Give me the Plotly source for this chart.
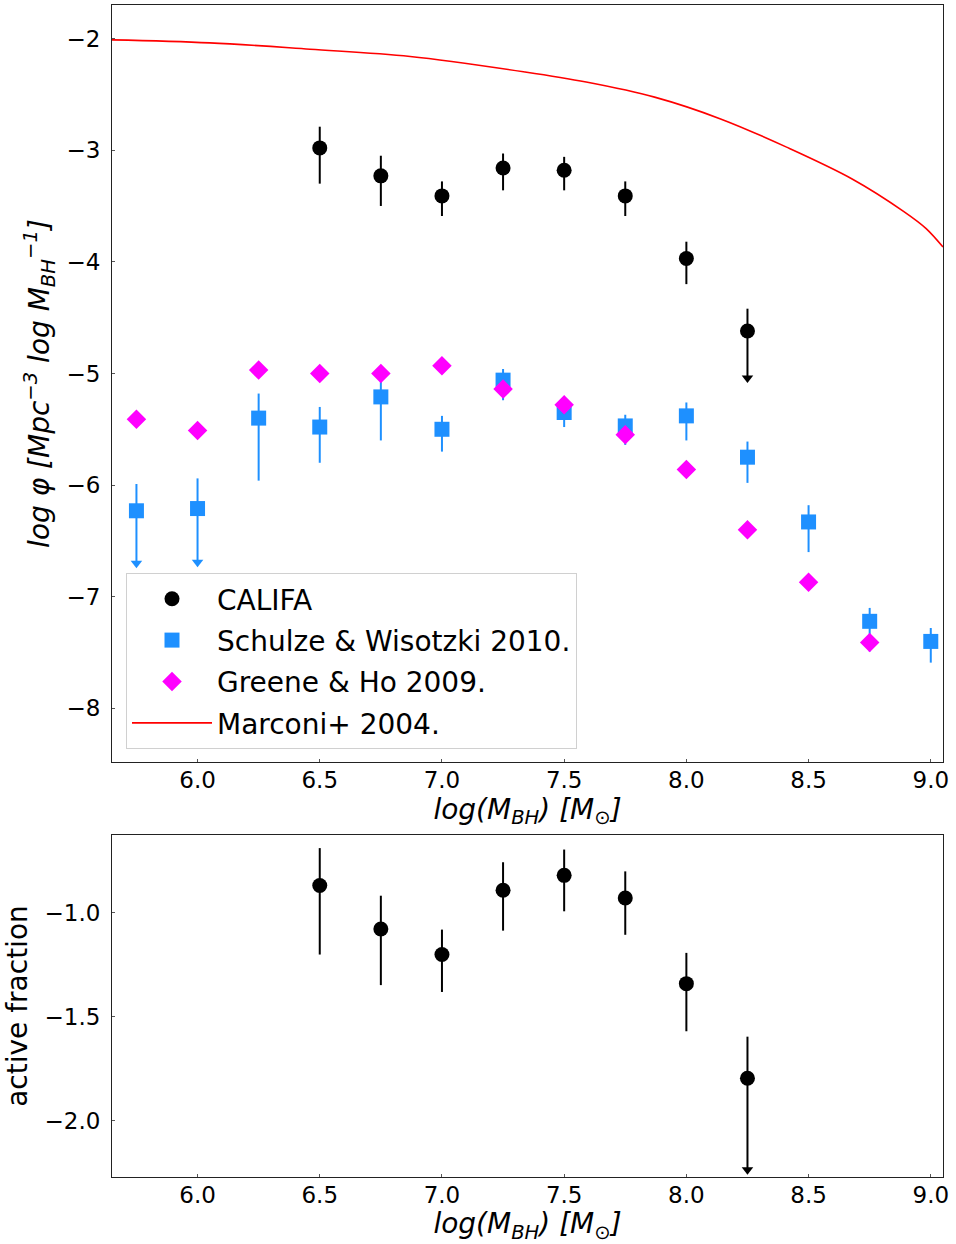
import plotly.graph_objects as go
from plotly.subplots import make_subplots

# ---------------- data ----------------
califa_x = [6.5, 6.75, 7.0, 7.25, 7.5, 7.75, 8.0, 8.25]
califa_y = [-2.98, -3.23, -3.41, -3.16, -3.18, -3.41, -3.97, -4.62]
califa_err_up = [0.19, 0.18, 0.13, 0.13, 0.12, 0.13, 0.15, 0.20]
califa_err_dn = [0.32, 0.27, 0.18, 0.20, 0.18, 0.18, 0.23, 0.42]
califa_limit = [False, False, False, False, False, False, False, True]

sw_x = [5.75, 6.0, 6.25, 6.5, 6.75, 7.0, 7.25, 7.5, 7.75, 8.0, 8.25, 8.5, 8.75, 9.0]
sw_y = [-6.23, -6.21, -5.40, -5.48, -5.21, -5.50, -5.06, -5.35, -5.47, -5.38, -5.75, -6.33, -7.22, -7.40]
sw_err_up = [0.24, 0.27, 0.22, 0.18, 0.18, 0.12, 0.10, 0.08, 0.10, 0.12, 0.14, 0.15, 0.12, 0.12]
sw_err_dn = [0.47, 0.48, 0.56, 0.32, 0.39, 0.20, 0.18, 0.13, 0.17, 0.22, 0.23, 0.27, 0.27, 0.19]
sw_limit = [True, True, False, False, False, False, False, False, False, False, False, False, False, False]

gh_x = [5.75, 6.0, 6.25, 6.5, 6.75, 7.0, 7.25, 7.5, 7.75, 8.0, 8.25, 8.5, 8.75]
gh_y = [-5.41, -5.51, -4.97, -5.00, -5.00, -4.93, -5.14, -5.28, -5.55, -5.86, -6.40, -6.87, -7.41]

marconi_x = [5.65, 6.05, 6.46, 6.87, 7.34, 7.59, 7.87, 8.14, 8.41, 8.68, 8.89, 8.98, 9.05]
marconi_y = [-2.012, -2.039, -2.096, -2.161, -2.30, -2.39, -2.525, -2.72, -2.973, -3.26, -3.55, -3.70, -3.868]

frac_x = [6.5, 6.75, 7.0, 7.25, 7.5, 7.75, 8.0, 8.25]
frac_y = [-0.868, -1.077, -1.20, -0.891, -0.819, -0.928, -1.34, -1.795]
frac_err_up = [0.18, 0.16, 0.12, 0.135, 0.124, 0.128, 0.148, 0.20]
frac_err_dn = [0.332, 0.27, 0.18, 0.194, 0.173, 0.177, 0.229, 0.44]
frac_limit = [False, False, False, False, False, False, False, True]

top_yticks = [-2, -3, -4, -5, -6, -7, -8]
bot_yticks = [-1.0, -1.5, -2.0]
xticks = [6.0, 6.5, 7.0, 7.5, 8.0, 8.5, 9.0]

# ---------------- figure ----------------
FONT = "DejaVu Sans"
BLUE = "#1E90FF"
MAG = "#FF00FF"

fig = make_subplots(rows=2, cols=1, shared_xaxes=False, vertical_spacing=0.0)

def err_trace(x, y, up, dn, color, row, name, symbol, size, showlegend, group):
    fig.add_trace(go.Scatter(
        x=x, y=y, mode="markers", name=name, legendgroup=group, showlegend=showlegend,
        marker=dict(symbol=symbol, size=size, color=color, line=dict(width=0)),
        error_y=dict(type="data", symmetric=False, array=up, arrayminus=dn,
                     color=color, thickness=2, width=0),
    ), row=row, col=1)

def arrow_trace(x, y, dn, lim, color, row, group):
    ax = [xi for xi, l in zip(x, lim) if l]
    ay = [yi - d for yi, d, l in zip(y, dn, lim) if l]
    fig.add_trace(go.Scatter(
        x=ax, y=ay, mode="markers", showlegend=False, legendgroup=group, hoverinfo="skip",
        marker=dict(symbol="triangle-down", size=10, color=color, line=dict(width=0)),
    ), row=row, col=1)

# top panel
err_trace(califa_x, califa_y, califa_err_up, califa_err_dn, "black", 1, "CALIFA", "circle", 15, True, "g1")
arrow_trace(califa_x, califa_y, califa_err_dn, califa_limit, "black", 1, "g1")
err_trace(sw_x, sw_y, sw_err_up, sw_err_dn, BLUE, 1, "Schulze &amp; Wisotzki 2010.", "square", 15, True, "g2")
arrow_trace(sw_x, sw_y, sw_err_dn, sw_limit, BLUE, 1, "g2")
fig.add_trace(go.Scatter(
    x=gh_x, y=gh_y, mode="markers", name="Greene &amp; Ho 2009.", legendgroup="g3",
    marker=dict(symbol="diamond", size=15, color=MAG, line=dict(width=0)),
), row=1, col=1)
fig.add_trace(go.Scatter(
    x=marconi_x, y=marconi_y, mode="lines", name="Marconi+ 2004.", legendgroup="g4",
    line=dict(color="red", width=1.6, shape="spline", smoothing=1.0),
), row=1, col=1)

# bottom panel
err_trace(frac_x, frac_y, frac_err_up, frac_err_dn, "black", 2, "CALIFA frac", "circle", 15, False, "g5")
arrow_trace(frac_x, frac_y, frac_err_dn, frac_limit, "black", 2, "g5")

# axes styling
W, H = 956, 1244
ml, mr, mt, mb = 112, 13, 5, 67
ph = H - mt - mb
top_dom = [(1177 - 762) / ph, 1.0]
bot_dom = [0.0, (1177 - 835) / ph]

axis_common = dict(
    showgrid=False, zeroline=False, showline=True, linecolor="#222", linewidth=1,
    mirror=True, ticks="inside", ticklen=3, tickwidth=1, tickcolor="#555",
    tickfont=dict(family=FONT, size=23, color="black"),
)
xlabel = "<i>log(M<sub>BH</sub>) [M<sub>⊙</sub>]</i>"

for r in (1, 2):
    fig.update_xaxes(**axis_common, range=[5.65, 9.05], tickvals=xticks,
                     ticktext=[f"{v:.1f}" for v in xticks],
                     ticklabelstandoff=-3,
                     title=dict(text=xlabel, font=dict(family=FONT, size=28, color="black"), standoff=5),
                     row=r, col=1)
fig.update_yaxes(**axis_common, range=[-8.48, -1.70], tickvals=top_yticks,
                 ticktext=[f"−{abs(v)}" for v in top_yticks],
                 title=dict(text="<i>log φ [Mpc<sup>−3</sup> log M<sub>BH</sub><sup>−1</sup>]</i>",
                            font=dict(family=FONT, size=28, color="black"), standoff=8),
                 ticklabelstandoff=6,
                 row=1, col=1)
fig.update_yaxes(**axis_common, range=[-2.27, -0.625], tickvals=bot_yticks,
                 ticktext=[f"−{abs(v):.1f}" for v in bot_yticks],
                 title=dict(text="active fraction", font=dict(family=FONT, size=28, color="black"), standoff=8),
                 ticklabelstandoff=6,
                 row=2, col=1)

fig.update_layout(
    width=W, height=H,
    margin=dict(l=ml, r=mr, t=mt, b=mb),
    plot_bgcolor="white", paper_bgcolor="white",
    font=dict(family=FONT, color="black"),
    xaxis=dict(domain=[0, 1]), yaxis=dict(domain=top_dom),
    xaxis2=dict(domain=[0, 1]), yaxis2=dict(domain=bot_dom),
    legend=dict(
        x=(126 - ml) / (W - ml - mr), y=(1177 - 573) / ph, xanchor="left", yanchor="top",
        bgcolor="rgba(255,255,255,0.8)", bordercolor="#d0d0d0", borderwidth=1,
        font=dict(family=FONT, size=28, color="black"),
        tracegroupgap=2, itemwidth=80,
    ),
    showlegend=True,
)

fig.write_html("out.html")
